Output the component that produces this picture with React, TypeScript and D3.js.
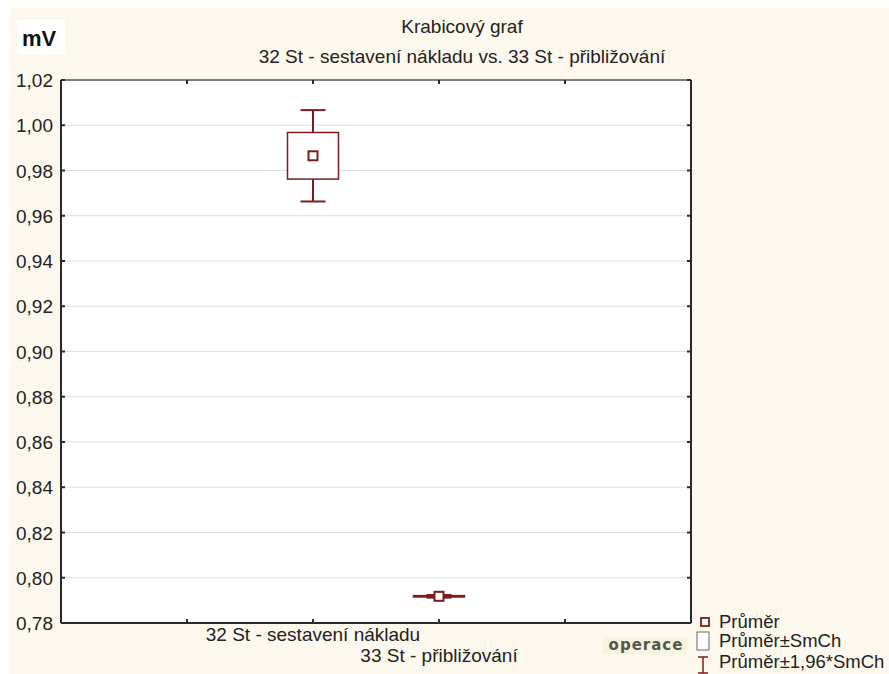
import React, { useRef, useEffect } from 'react';
import * as d3 from 'd3';

// groups (operace) and their summary stats
const categories = ['32 St - sestavení nákladu', '33 St - přibližování'];
const means = [0.9865, 0.7918];
const stdErrors = [0.0103, 0.0003];
const yTicks = [0.78, 0.8, 0.82, 0.84, 0.86, 0.88, 0.9, 0.92, 0.94, 0.96, 0.98, 1.0, 1.02];
const legendLabels = ['Průměr', 'Průměr±SmCh', 'Průměr±1,96*SmCh'];

const W = 889;
const H = 674;
const RED = '#7d1c1c';
const FONT = 'Arial, "Liberation Sans", sans-serif';

const App = () => {
  const svgRef = useRef<SVGSVGElement>(null);

  useEffect(() => {
    const svg = d3.select(svgRef.current);
    svg.selectAll('*').remove();

    const margin = { top: 80, right: 198, bottom: 51, left: 61 };
    const x0 = margin.left, x1 = W - margin.right;
    const y0 = margin.top, y1 = H - margin.bottom;

    // cream page background
    svg.append('rect').attr('x', 10).attr('y', 8).attr('width', W - 10).attr('height', H - 8).attr('fill', '#fdf8ed');

    // x positions: 5 equal slots, groups sit on slot borders 2 and 3
    const xSlot = d3.scaleLinear().domain([0, 5]).range([x0, x1]);
    const xPos = (i: number) => xSlot(i + 2);
    const y = d3.scaleLinear().domain([0.78, 1.02]).range([y1, y0]);

    svg.append('rect').attr('x', x0).attr('y', y0).attr('width', x1 - x0).attr('height', y1 - y0).attr('fill', '#fff');

    // grid
    svg.append('g').selectAll('line')
      .data(yTicks.slice(1, -1))
      .enter().append('line')
      .attr('x1', x0).attr('x2', x1)
      .attr('y1', d => y(d)).attr('y2', d => y(d))
      .attr('stroke', '#dedede').attr('stroke-width', 1);

    // frame
    const frame = svg.append('g').attr('stroke', '#2a2a2a').attr('fill', 'none');
    frame.append('line').attr('x1', x0).attr('x2', x1).attr('y1', y0).attr('y2', y0).attr('stroke', '#555').attr('stroke-width', 1.5);
    frame.append('line').attr('x1', x1).attr('x2', x1).attr('y1', y0).attr('y2', y1).attr('stroke-width', 2);
    frame.append('line').attr('x1', x0).attr('x2', x0).attr('y1', y0).attr('y2', y1).attr('stroke-width', 2);
    frame.append('line').attr('x1', x0).attr('x2', x1).attr('y1', y1).attr('y2', y1).attr('stroke-width', 2);

    // y ticks, both sides, pointing inwards
    yTicks.forEach(t => {
      frame.append('line').attr('x1', x0).attr('x2', x0 + 4).attr('y1', y(t)).attr('y2', y(t)).attr('stroke-width', 2);
      frame.append('line').attr('x1', x1 - 4).attr('x2', x1).attr('y1', y(t)).attr('y2', y(t)).attr('stroke-width', 2);
    });
    // x ticks top and bottom
    [1, 2, 3, 4].forEach(k => {
      frame.append('line').attr('x1', xSlot(k)).attr('x2', xSlot(k)).attr('y1', y0).attr('y2', y0 + 4).attr('stroke-width', 2);
      frame.append('line').attr('x1', xSlot(k)).attr('x2', xSlot(k)).attr('y1', y1 - 4).attr('y2', y1).attr('stroke-width', 2);
    });

    // y labels
    svg.append('g').selectAll('text')
      .data(yTicks)
      .enter().append('text')
      .attr('x', x0 - 8).attr('y', d => y(d) + 7)
      .attr('text-anchor', 'end')
      .style('font-family', FONT)
      .style('font-size', '19px')
      .attr('fill', '#222')
      .text(d => d3.format('.2f')(d).replace('.', ','));

    // x labels, staggered
    svg.append('g').selectAll('text')
      .data(categories)
      .enter().append('text')
      .attr('x', (d, i) => xPos(i)).attr('y', (d, i) => i === 0 ? 641 : 662)
      .attr('text-anchor', 'middle')
      .style('font-family', FONT)
      .style('font-size', '19px')
      .attr('fill', '#222')
      .text(d => d);

    // boxes
    const boxW = 51, capW = 25, markW = 9;
    const g = svg.append('g');
    categories.forEach((c, i) => {
      const cx = xPos(i), m = means[i], se = stdErrors[i];
      const lo = m - 1.96 * se, hi = m + 1.96 * se;
      g.append('line').attr('x1', cx).attr('x2', cx).attr('y1', y(hi)).attr('y2', y(lo)).attr('stroke', RED).attr('stroke-width', 2);
      g.append('rect').attr('x', cx - boxW / 2).attr('y', y(m + se)).attr('width', boxW)
        .attr('height', Math.max(1, y(m - se) - y(m + se))).attr('fill', '#fff').attr('stroke', RED).attr('stroke-width', 1.5);
      [hi, lo].forEach(v => {
        g.append('line').attr('x1', cx - capW / 2).attr('x2', cx + capW / 2).attr('y1', y(v)).attr('y2', y(v)).attr('stroke', RED).attr('stroke-width', 2);
      });
      g.append('rect').attr('x', cx - markW / 2).attr('y', y(m) - markW / 2).attr('width', markW).attr('height', markW)
        .attr('fill', '#fff').attr('stroke', RED).attr('stroke-width', 2);
    });

    // titles
    const title = svg.append('g').style('font-family', FONT).attr('fill', '#222').style('font-size', '19px');
    title.append('text').attr('x', 462).attr('y', 33).attr('text-anchor', 'middle').text('Krabicový graf');
    title.append('text').attr('x', 462).attr('y', 63).attr('text-anchor', 'middle').text('32 St - sestavení nákladu vs. 33 St - přibližování');

    // mV unit label
    svg.append('rect').attr('x', 17).attr('y', 20).attr('width', 48).attr('height', 35).attr('fill', '#fff');
    svg.append('text').attr('x', 22).attr('y', 46)
      .style('font-family', FONT).style('font-size', '22px').style('font-weight', 'bold')
      .attr('fill', '#111').text('mV');

    // operace tag
    svg.append('rect').attr('x', 603).attr('y', 637).attr('width', 84).attr('height', 17).attr('fill', '#f6f5dc');
    svg.append('text').attr('x', 646).attr('y', 650).attr('text-anchor', 'middle')
      .style('font-family', '"DejaVu Sans", sans-serif').style('font-size', '15px').style('font-weight', 'bold')
      .style('letter-spacing', '1px')
      .attr('fill', '#555').text('operace');

    // legend
    const leg = svg.append('g');
    leg.append('rect').attr('x', 701).attr('y', 618).attr('width', 8).attr('height', 8).attr('fill', '#fff').attr('stroke', RED).attr('stroke-width', 1.8);
    leg.append('rect').attr('x', 697).attr('y', 632).attr('width', 12).attr('height', 18).attr('fill', '#fff').attr('stroke', '#666').attr('stroke-width', 1);
    leg.append('line').attr('x1', 703).attr('x2', 703).attr('y1', 657).attr('y2', 673).attr('stroke', RED).attr('stroke-width', 1.5);
    leg.append('line').attr('x1', 698).attr('x2', 708).attr('y1', 657).attr('y2', 657).attr('stroke', RED).attr('stroke-width', 1.5);
    leg.append('line').attr('x1', 698).attr('x2', 708).attr('y1', 673).attr('y2', 673).attr('stroke', RED).attr('stroke-width', 1.5);
    legendLabels.forEach((t, i) => {
      leg.append('text').attr('x', 719).attr('y', [628, 647, 668][i])
        .style('font-family', FONT).style('font-size', '18.5px').attr('fill', '#222').text(t);
    });
  }, []);

  return (
    <div style={{ position: 'absolute', left: 0, top: 0, width: W, height: H }}>
      <svg ref={svgRef} width={W} height={H} style={{ display: 'block' }}></svg>
    </div>
  );
};

export default App;
